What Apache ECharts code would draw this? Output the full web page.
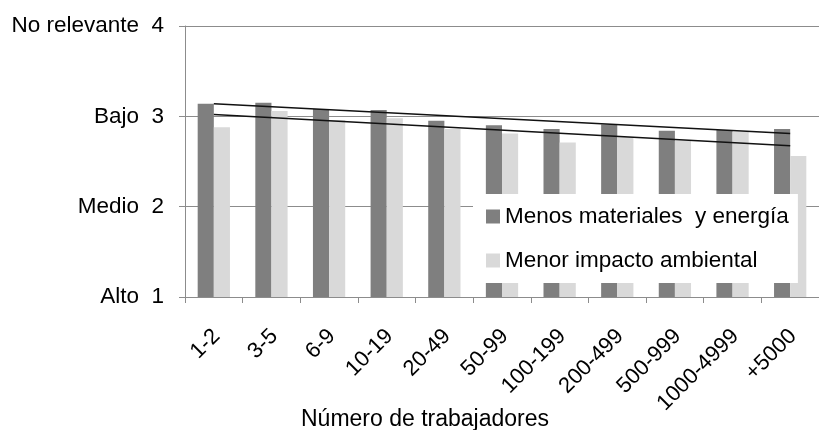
<!DOCTYPE html>
<html>
<head>
<meta charset="utf-8">
<script src="https://cdn.jsdelivr.net/npm/echarts@6/dist/echarts.min.js"></script>
<style>
html,body{margin:0;padding:0;background:#fff;}
#c{width:819px;height:430px;}
</style>
</head>
<body>
<div id="c"></div>
<script>
var categories = ['1-2','3-5','6-9','10-19','20-49','50-99','100-199','200-499','500-999','1000-4999','+5000'];
var menosMateriales = [3.14,3.15,3.08,3.07,2.95,2.90,2.86,2.91,2.84,2.85,2.86];
var menorImpacto = [2.88,3.06,2.96,2.98,2.86,2.81,2.71,2.77,2.73,2.83,2.56];
// trend line end points (first and last category)
var trendMateriales = [3.14, 2.81];
var trendImpacto = [3.02, 2.675];
var yTickNames = ['Alto','Medio','Bajo','No relevante'];
var seriesNames = ['Menos materiales  y energía','Menor impacto ambiental'];
var xTitle = 'Número de trabajadores';

function trendData(ends){
  var d = categories.map(function(){ return null; });
  d[0] = ends[0];
  d[d.length-1] = ends[1];
  return d;
}

var chart = echarts.init(document.getElementById('c'), null, {renderer:'canvas'});
var font = 'Liberation Sans, Arial, sans-serif';
chart.setOption({
  backgroundColor: '#ffffff',
  animation: false,
  textStyle: {fontFamily: font},
  title: {
    text: xTitle, left: 301, top: 408, padding: 0,
    textStyle: {fontSize: 23, fontWeight: 'normal', color: '#000', fontFamily: font}
  },
  grid: {left: 185, top: 26, width: 646, height: 271, containLabel: false},
  legend: {
    data: seriesNames,
    orient: 'vertical',
    left: 473, top: 194,
    padding: [11, 9, 11, 13],
    backgroundColor: '#ffffff',
    itemWidth: 14, itemHeight: 14, itemGap: 21,
    icon: 'rect',
    textStyle: {fontSize: 22.5, color: '#000', fontFamily: font}
  },
  xAxis: {
    type: 'category',
    data: categories,
    boundaryGap: true,
    axisLine: {lineStyle: {color: '#8c8c8c', width: 1}},
    axisTick: {show: true, length: 6, lineStyle: {color: '#8c8c8c'}},
    axisLabel: {
      rotate: 45, interval: 0, margin: 33,
      align: 'right', verticalAlign: 'top', lineHeight: 8,
      fontSize: 22, color: '#000', fontFamily: font
    }
  },
  yAxis: {
    type: 'value',
    min: 1, max: 4, interval: 1,
    axisLine: {show: true, lineStyle: {color: '#8c8c8c', width: 1}},
    axisTick: {show: true, length: 6, lineStyle: {color: '#8c8c8c'}},
    splitLine: {show: true, lineStyle: {color: '#8c8c8c', width: 1}},
    axisLabel: {
      margin: 21, fontSize: 22.5, color: '#000', fontFamily: font,
      formatter: function(v){ return yTickNames[v-1] + '  ' + v; }
    }
  },
  series: [
    {name: seriesNames[0], type: 'bar', data: menosMateriales, barGap: '0%', barCategoryGap: '44%',
     itemStyle: {color: '#7f7f7f'}, z: 2},
    {name: seriesNames[1], type: 'bar', data: menorImpacto,
     itemStyle: {color: '#d9d9d9'}, z: 2},
    {name: 'trend1', type: 'line', data: trendData(trendMateriales), connectNulls: true,
     symbol: 'none', lineStyle: {color: '#111', width: 1.5}, z: 3, silent: true},
    {name: 'trend2', type: 'line', data: trendData(trendImpacto), connectNulls: true,
     symbol: 'none', lineStyle: {color: '#111', width: 1.5}, z: 3, silent: true}
  ]
});
</script>
</body>
</html>
